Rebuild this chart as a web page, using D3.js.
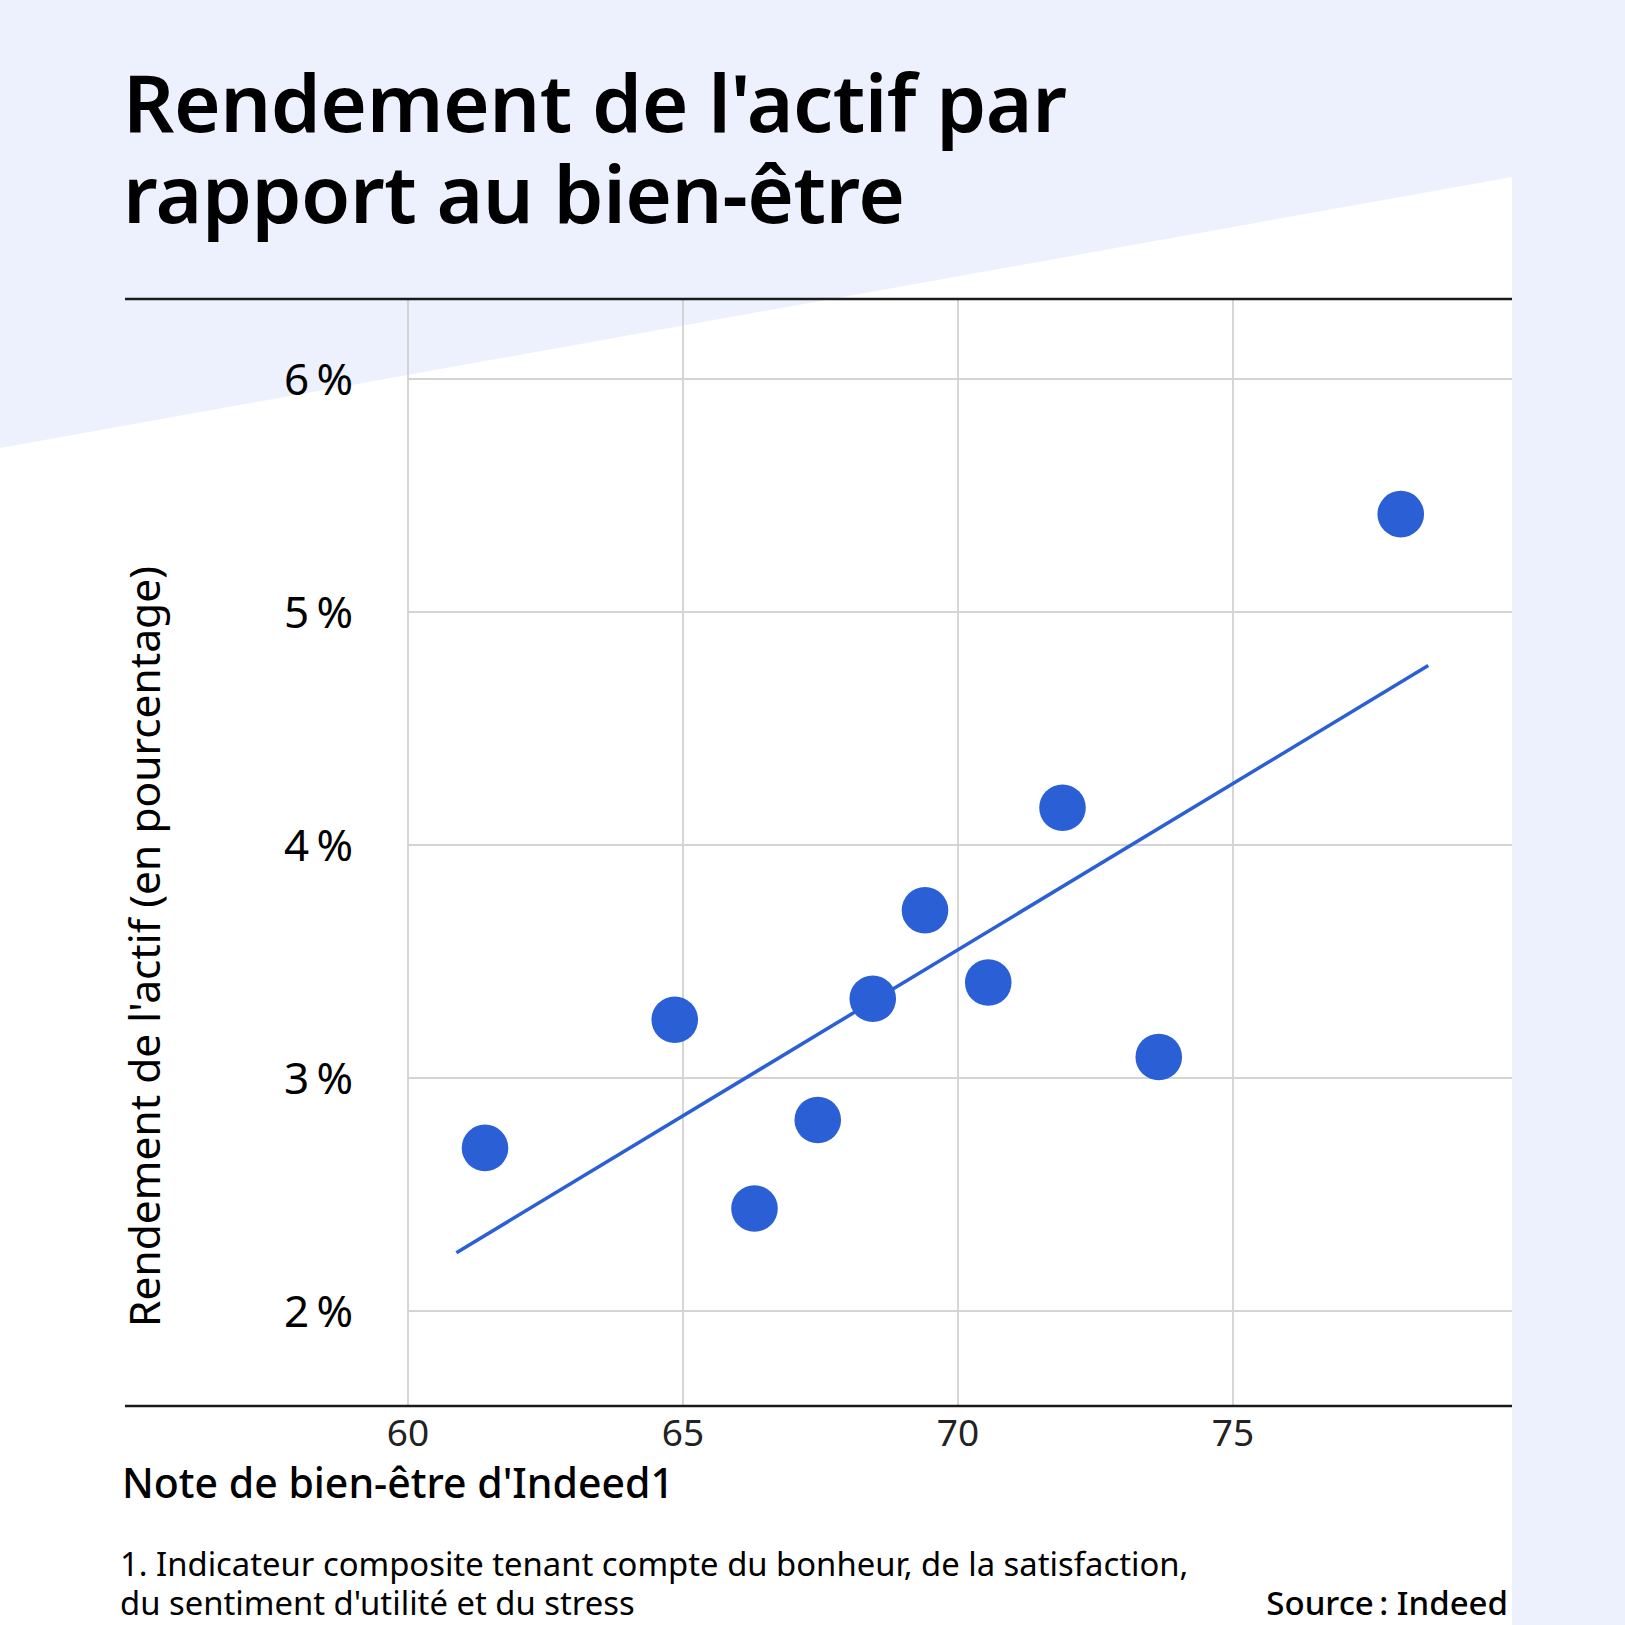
<!DOCTYPE html>
<html>
<head>
<meta charset="utf-8">
<script src="https://cdn.jsdelivr.net/npm/d3@7.9.0/dist/d3.min.js"></script>
<style>
  body { margin: 0; background: #fff; }
  svg { display: block; font-family: "Noto Sans", sans-serif; }
</style>
</head>
<body>
<svg id="chart" width="1625" height="1625"></svg>
<script>
// scores (x) and return on assets in % (y)
const wellbeing = [61.4, 64.85, 66.3, 67.45, 68.45, 69.4, 70.55, 71.9, 73.65, 78.05];
const returns = [2.70, 3.25, 2.44, 2.82, 3.34, 3.72, 3.41, 4.16, 3.09, 5.42];
// trend line end points
const trendX = [60.88, 78.55];
const trendY = [2.25, 4.77];
const xTicks = [60, 65, 70, 75];
const yTicks = [2, 3, 4, 5, 6];

const titleLines = ["Rendement de l'actif par", 'rapport au bien-être'];
const noteLines = ['1. Indicateur composite tenant compte du bonheur, de la satisfaction,',
  "du sentiment d'utilité et du stress"];

const W = 1625, H = 1625;
const svg = d3.select('#chart');

// background: light blue with a white wedge under a slanted edge
svg.append('rect').attr('width', W).attr('height', H).attr('fill', '#edf1fd');
svg.append('path')
  .attr('d', `M0,448 L1512,177 L1512,${H} L0,${H} Z`)
  .attr('fill', '#fff');

// title
svg.append('g')
  .selectAll('text')
  .data(titleLines)
  .join('text')
  .attr('x', 123).attr('y', (d, i) => 132 + i * 91)
  .attr('font-size', 80).attr('font-weight', 600).attr('fill', '#000')
  .attr('letter-spacing', -0.5)
  .text(d => d);

const x = d3.scaleLinear().domain([60, 80]).range([408, 1508]);
const y = d3.scaleLinear().domain([2, 6]).range([1311, 379]);
const plotTop = 299, plotBottom = 1406, plotRight = 1512;

// grid
svg.append('g')
  .selectAll('line')
  .data(xTicks)
  .join('line')
  .attr('x1', d => x(d)).attr('x2', d => x(d))
  .attr('y1', plotTop).attr('y2', plotBottom)
  .attr('stroke', '#c8c8c8').attr('stroke-width', 1.5);

svg.append('g')
  .selectAll('line')
  .data(yTicks)
  .join('line')
  .attr('x1', x(60)).attr('x2', plotRight)
  .attr('y1', d => y(d)).attr('y2', d => y(d))
  .attr('stroke', '#d4d4d4').attr('stroke-width', 2);

// frame lines top / bottom
[plotTop, plotBottom].forEach(v => {
  svg.append('line')
    .attr('x1', 125).attr('x2', plotRight)
    .attr('y1', v).attr('y2', v)
    .attr('stroke', '#1a1a1a').attr('stroke-width', 2.5);
});

// tick labels
svg.append('g')
  .selectAll('text')
  .data(yTicks)
  .join('text')
  .attr('x', 353).attr('y', d => y(d) + 16)
  .attr('text-anchor', 'end')
  .attr('font-size', 44).attr('fill', '#000')
  .text(d => d + '\u202f%');

svg.append('g')
  .selectAll('text')
  .data(xTicks)
  .join('text')
  .attr('x', d => x(d)).attr('y', 1446)
  .attr('text-anchor', 'middle')
  .attr('font-size', 37).attr('fill', '#222')
  .text(d => d);

// axis titles
svg.append('text')
  .attr('transform', 'translate(160,1327) rotate(-90)')
  .attr('font-size', 42.5).attr('fill', '#000')
  .text("Rendement de l'actif (en pourcentage)");

svg.append('text')
  .attr('x', 122).attr('y', 1498)
  .attr('font-size', 41).attr('font-weight', 500).attr('fill', '#000')
  .text("Note de bien-être d'Indeed1");

// trend line
svg.append('line')
  .attr('x1', x(trendX[0])).attr('y1', y(trendY[0]))
  .attr('x2', x(trendX[1])).attr('y2', y(trendY[1]))
  .attr('stroke', '#2a5fd6').attr('stroke-width', 3.5);

// points
svg.append('g')
  .selectAll('circle')
  .data(wellbeing.map((d, i) => [d, returns[i]]))
  .join('circle')
  .attr('cx', d => x(d[0])).attr('cy', d => y(d[1]))
  .attr('r', 23.3)
  .attr('fill', '#2a5fd6');

// footnote + source
svg.append('g')
  .selectAll('text')
  .data(noteLines)
  .join('text')
  .attr('x', 120).attr('y', (d, i) => 1576 + i * 39)
  .attr('font-size', 32.8).attr('fill', '#000')
  .text(d => d);

svg.append('text')
  .attr('x', 1508).attr('y', 1615)
  .attr('text-anchor', 'end')
  .attr('font-size', 33).attr('font-weight', 500).attr('fill', '#000')
  .text('Source\u202f: Indeed');
</script>
</body>
</html>
